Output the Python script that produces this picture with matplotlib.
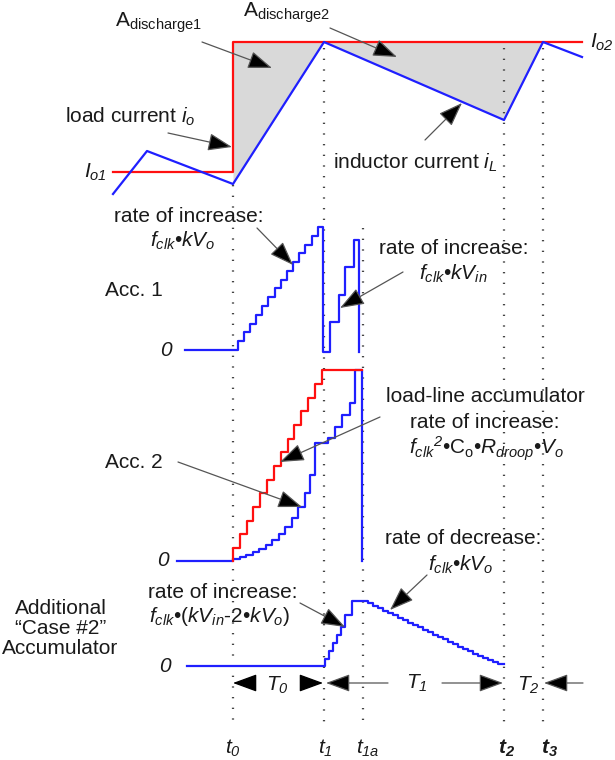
import matplotlib
matplotlib.use('Agg')
import matplotlib.pyplot as plt
from matplotlib.patches import FancyArrowPatch

plt.rcParams['font.family'] = 'Liberation Sans'
plt.rcParams['mathtext.fontset'] = 'custom'
plt.rcParams['mathtext.rm'] = 'Liberation Sans:italic'
plt.rcParams['mathtext.it'] = 'Liberation Sans:italic'
plt.rcParams['mathtext.sf'] = 'Liberation Sans'
plt.rcParams['mathtext.bf'] = 'Liberation Sans:italic:bold'

# time marks (diagram x units)
t_pos = [233, 324, 363, 504, 543]
t_labels = [r'$t_0$', r'$t_1$', r'$t_{1a}$', r'$\mathbf{t_2}$', r'$\mathbf{t_3}$']
t_label_x = [233, 325, 368, 507, 550]
dot_top = [185, 48, 228, 48, 48]
dot_bottom = 725

# top panel: load current and inductor current
load_x = [113, 233, 233, 582]
load_y = [172, 172, 42, 42]
ind_x = [113, 147, 233, 324, 504, 543, 582]
ind_y = [194, 151, 184, 42, 120, 42, 57]
fill_x = [233, 324, 504, 543]
fill_lo = [184, 42, 120, 42]
io2_level = 42

# accumulator 1 (steps-post)
acc1_x = [185, 238, 244, 250, 256, 262, 268, 275, 281, 287, 293, 299, 305, 312, 318,
          323, 330, 339, 345, 354, 359, 359]
acc1_y = [350, 341, 332, 324, 315, 306, 297, 288, 280, 271, 262, 253, 245, 236, 227,
          352, 322, 295, 267, 240, 352, 352]

# accumulator 2: load-line (red) and main (blue)
acc2r_x = [233, 233, 240, 247, 253, 260, 267, 274, 281, 288, 294, 301, 308, 315, 322, 362]
acc2r_y = [561, 548, 534, 521, 507, 493, 480, 466, 452, 439, 425, 411, 398, 384, 370, 370]
acc2b_x = [177, 233, 240, 246, 253, 259, 266, 272, 279, 285, 292, 298, 305, 310, 315,
           328, 335, 342, 350, 355, 362, 362]
acc2b_y = [561, 559, 557, 555, 552, 549, 545, 540, 534, 527, 518, 507, 493, 475, 443,
           438, 427, 415, 403, 370, 561, 561]

# additional "case #2" accumulator
acc3_x = [187, 325, 329, 333, 337, 341, 345, 352, 368, 373, 378, 383, 388, 393, 398,
          403, 408, 413, 418, 423, 428, 433, 438, 443, 448, 453, 458, 463, 468, 473,
          478, 483, 488, 493, 498, 504]
acc3_y = [666, 659, 651, 643, 635, 627, 615, 601, 603, 606, 608, 611, 613, 615, 618,
          620, 623, 625, 627, 630, 632, 635, 637, 639, 642, 644, 647, 649, 651, 654,
          656, 658, 660, 662, 664, 664]

RED = '#ff1010'
BLUE = '#1f1fff'
TXT = '#1a1a1a'
FS = 15

fig = plt.figure(figsize=(6.15, 7.6), dpi=100)
ax = fig.add_axes([0, 0, 1, 1])
ax.set_xlim(0, 615)
ax.set_ylim(760, 0)
ax.axis('off')

# dotted time markers
for x, top in zip(t_pos, dot_top):
    ax.plot([x, x], [top, dot_bottom], color='#444444', lw=1.6,
            linestyle=(0, (0.6, 4.2)), zorder=1)
for x, lab in zip(t_label_x, t_labels):
    ax.text(x, 748, lab, fontsize=FS, ha='center', va='center', color=TXT)

# top panel
ax.fill_between(fill_x, fill_lo, io2_level, color='#d9d9d9', lw=0, zorder=0)
ax.plot(load_x, load_y, color=RED, lw=1.6, zorder=3)
ax.plot(ind_x, ind_y, color=BLUE, lw=1.6, zorder=3)

# accumulators
ax.plot(acc1_x, acc1_y, drawstyle='steps-post', color=BLUE, lw=1.6, zorder=3)
ax.plot(acc2b_x, acc2b_y, drawstyle='steps-post', color=BLUE, lw=1.6, zorder=3)
ax.plot(acc2r_x, acc2r_y, drawstyle='steps-post', color=RED, lw=1.6, zorder=4)
ax.plot(acc3_x, acc3_y, drawstyle='steps-post', color=BLUE, lw=1.6, zorder=3)


def arrow(tail, head, line=True):
    a = FancyArrowPatch(tail, head, arrowstyle='-|>,head_length=1.5,head_width=0.55',
                        mutation_scale=10, shrinkA=0, shrinkB=0,
                        edgecolor='#555555' if line else 'black', facecolor='black',
                        lw=0.9, zorder=6)
    ax.add_patch(a)


def label(x, y, s, **kw):
    ax.text(x, y, s, fontsize=FS, va='center', color=TXT, **kw)


# labels, top panel
label(115, 23, r'A$_{\mathsf{discharge1}}$')
label(243, 13, r'A$_{\mathsf{discharge2}}$')
label(65, 117, r'load current $i_o$')
label(84, 172, r'$I_{o1}$')
label(590, 42, r'$I_{o2}$')
label(333, 163, r'inductor current $i_L$')
arrow((202, 42), (272, 68))
arrow((330, 28), (397, 57))
arrow((168, 133), (232, 147))
arrow((425, 140), (462, 103))

# acc. 1
label(163, 290, 'Acc. 1', ha='right')
label(166, 350, '0', ha='center', style='italic')
label(189, 216, 'rate of increase:', ha='center')
label(183, 241, r'$f_{clk}$•$kV_o$', ha='center')
arrow((257, 228), (293, 265))
label(454, 248, 'rate of increase:', ha='center')
label(453, 274, r'$f_{clk}$•$kV_{in}$', ha='center')
arrow((403, 272), (340, 308))

# acc. 2
label(163, 463, 'Acc. 2', ha='right')
label(163, 561, '0', ha='center', style='italic')
label(485, 397, 'load-line accumulator', ha='center')
label(485, 423, 'rate of increase:', ha='center')
label(487, 449, r'$f_{clk}{}^{2}$•C$_\mathsf{o}$•$R_{droop}$•$V_o$', ha='center')
arrow((178, 462), (302, 507))
arrow((380, 417), (280, 462))

# additional accumulator
label(61, 608, 'Additional', ha='center')
label(61, 628, '\u201cCase #2\u201d', ha='center')
label(60, 648, 'Accumulator', ha='center')
label(165, 666, '0', ha='center', style='italic')
label(223, 593, 'rate of increase:', ha='center')
label(220, 617, r'$f_{clk}$•($kV_{in}$-2•$kV_o$)', ha='center')
arrow((300, 603), (345, 627))
label(463, 538, 'rate of decrease:', ha='center')
label(461, 565, r'$f_{clk}$•$kV_o$', ha='center')
arrow((427, 575), (390, 610))

# interval arrows
label(277, 685, r'$T_0$', ha='center')
label(417, 683, r'$T_1$', ha='center')
label(528, 685, r'$T_2$', ha='center')
arrow((251, 683), (233, 683), line=False)
arrow((301, 683), (323, 683), line=False)
arrow((388, 683), (326, 683))
arrow((442, 683), (503, 683))
arrow((583, 683), (544, 683))

fig.savefig('out.png', dpi=100)
